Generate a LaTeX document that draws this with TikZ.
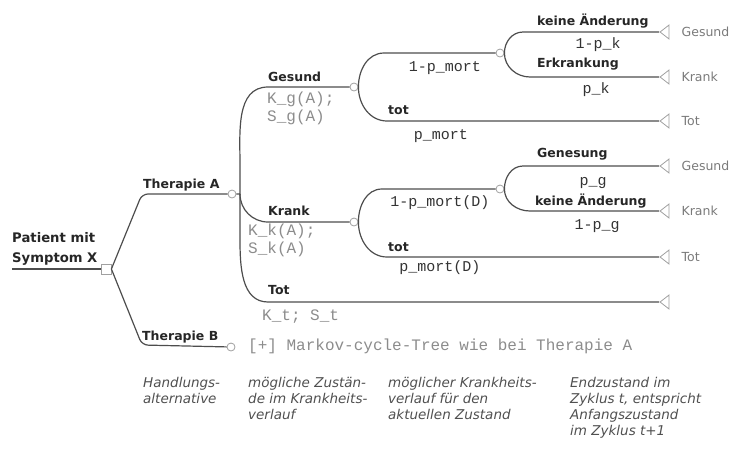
\documentclass[tikz,border=0pt]{standalone}
\usepackage{fontspec}
\setmainfont{DejaVu Sans}
\setmonofont{Liberation Mono}
\usetikzlibrary{positioning,shapes.geometric}

\definecolor{linegray}{HTML}{4D4D4D}
\definecolor{boxgray}{HTML}{A0A0A0}
\definecolor{txtdark}{HTML}{262626}
\definecolor{probcol}{HTML}{333333}
\definecolor{costcol}{HTML}{8C8C8C}
\definecolor{endcol}{HTML}{7A7A7A}
\definecolor{captcol}{HTML}{505050}

\tikzset{
  edge/.style={draw=linegray, line width=1.2pt},
  dec/.style={rectangle, draw=boxgray, fill=white, line width=0.8pt, inner sep=0pt, minimum size=10pt},
  chance/.style={circle, draw=boxgray, fill=white, line width=0.8pt, inner sep=0pt, minimum size=8pt},
  term/.style={isosceles triangle, isosceles triangle stretches, shape border rotate=180,
    draw=boxgray, line width=0.8pt, inner sep=0pt, minimum width=14pt, minimum height=9pt, anchor=apex},
  bold/.style={font=\fontsize{12.5}{14}\selectfont\bfseries, text=txtdark, inner sep=0pt},
  prob/.style={font=\fontsize{15}{17}\selectfont\ttfamily, text=probcol, inner sep=0pt},
  cost/.style={font=\fontsize{16}{18}\selectfont\ttfamily, text=costcol, inner sep=0pt, align=left},
  endlbl/.style={font=\fontsize{12.5}{14}\selectfont, text=endcol, inner sep=0pt},
  capt/.style={font=\fontsize{13.5}{16}\selectfont\itshape, text=captcol, inner sep=0pt, align=left}
}

\begin{document}
\begin{tikzpicture}[x=1pt,y=-1pt]
  \useasboundingbox (0,0) rectangle (742,448);

  \node [dec] (pat) at (106,269) {};
  \node [chance] (ta) at (232,194) {};
  \node [chance] (tb) at (231,347) {};
  \node [chance] (gs) at (354,87) {};
  \node [chance] (kr) at (354,222) {};
  \node [chance] (gsl) at (500,53) {};
  \node [chance] (krl) at (500,189) {};
  \node [term] (e1) at (659,32) {};
  \node [term] (e2) at (659,77) {};
  \node [term] (e3) at (659,121) {};
  \node [term] (e4) at (659,166) {};
  \node [term] (e5) at (659,211) {};
  \node [term] (e6) at (659,257) {};
  \node [term] (e7) at (659,302) {};

  \coordinate (start) at (12,269);
  \coordinate (fa) at (240,194);

  \draw [edge] (start) -- (pat);
  \draw [edge, rounded corners=6pt] (pat.east) -- (142,194) -- (ta);
  \draw [edge, rounded corners=6pt] (pat.east) -- (142,345) -- (tb);

  \draw [edge] (ta) -- (fa) -- (240,165) to[out=90,in=180] (268,87) -- (gs);
  \draw [edge] (fa) to[out=-90,in=180] (268,222) -- (kr);
  \draw [edge] (fa) -- (240,240) to[out=-90,in=180] (268,302) -- (e7.apex);

  \draw [edge] (gs.east) to[out=90,in=180] (384,53) -- (gsl);
  \draw [edge] (gs.east) to[out=-90,in=180] (387,121) -- (e3.apex);
  \draw [edge] (kr.east) to[out=90,in=180] (382,189) -- (krl);
  \draw [edge] (kr.east) to[out=-90,in=180] (387,257) -- (e6.apex);

  \draw [edge] (gsl.east) to[out=90,in=180] (523,32) -- (e1.apex);
  \draw [edge] (gsl.east) to[out=-90,in=180] (530,77) -- (e2.apex);
  \draw [edge] (krl.east) to[out=90,in=180] (523,166) -- (e4.apex);
  \draw [edge] (krl.east) to[out=-90,in=180] (530,211) -- (e5.apex);

  \node [bold, anchor=south west, align=left, font=\fontsize{13.2}{20}\selectfont\bfseries] (patl) at (12,266) {Patient mit\\Symptom X};
  \node [bold, anchor=base west] (tal) at (143,188) {Therapie A};
  \node [bold, anchor=base west] (tbl) at (142,340) {Therapie B};
  \node [bold, anchor=base west] (gsb) at (268,81) {Gesund};
  \node [bold, anchor=base west] (krb) at (268,215) {Krank};
  \node [bold, anchor=base west] (totb) at (268,294) {Tot};
  \node [bold, anchor=base west] (tot1) at (388,114) {tot};
  \node [bold, anchor=base west] (tot2) at (388,251) {tot};
  \node [bold, anchor=base west] (kein1) at (537,25) {keine Änderung};
  \node [bold, anchor=base west] (erkr) at (537,67) {Erkrankung};
  \node [bold, anchor=base west] (genes) at (537,157) {Genesung};
  \node [bold, anchor=base west] (kein2) at (535,205) {keine Änderung};

  \node [prob, anchor=base] (p1) at (445,71) {1-p\_mort};
  \node [prob, anchor=base] (p2) at (441,139) {p\_mort};
  \node [prob, anchor=base] (p3) at (598,48) {1-p\_k};
  \node [prob, anchor=base] (p4) at (596,93) {p\_k};
  \node [prob, anchor=base] (p5) at (440,206) {1-p\_mort(D)};
  \node [prob, anchor=base] (p6) at (440,271) {p\_mort(D)};
  \node [prob, anchor=base] (p7) at (593,185) {p\_g};
  \node [prob, anchor=base] (p8) at (597,229) {1-p\_g};

  \node [cost, anchor=north west] (kg) at (267,92) {K\_g(A);\\S\_g(A)};
  \node [cost, anchor=north west] (kk) at (248,224) {K\_k(A);\\S\_k(A)};
  \node [cost, anchor=base west] (kt) at (262,320) {K\_t; S\_t};
  \node [cost, anchor=base west] (mk) at (248,350) {[+] Markov-cycle-Tree wie bei Therapie A};

  \node [endlbl, right=12pt of e1] (l1) {Gesund};
  \node [endlbl, right=12pt of e2] (l2) {Krank};
  \node [endlbl, right=12pt of e3] (l3) {Tot};
  \node [endlbl, right=12pt of e4] (l4) {Gesund};
  \node [endlbl, right=12pt of e5] (l5) {Krank};
  \node [endlbl, right=12pt of e6] (l6) {Tot};

  \node [capt, anchor=north west] (c1) at (143,377) {Handlungs-\\alternative};
  \node [capt, anchor=north west] (c2) at (248,377) {mögliche Zustän-\\de im Krankheits-\\verlauf};
  \node [capt, anchor=north west] (c3) at (388,377) {möglicher Krankheits-\\verlauf für den\\aktuellen Zustand};
  \node [capt, anchor=north west] (c4) at (570,377) {Endzustand im\\Zyklus t, entspricht\\Anfangszustand\\im Zyklus t+1};
\end{tikzpicture}
\end{document}
